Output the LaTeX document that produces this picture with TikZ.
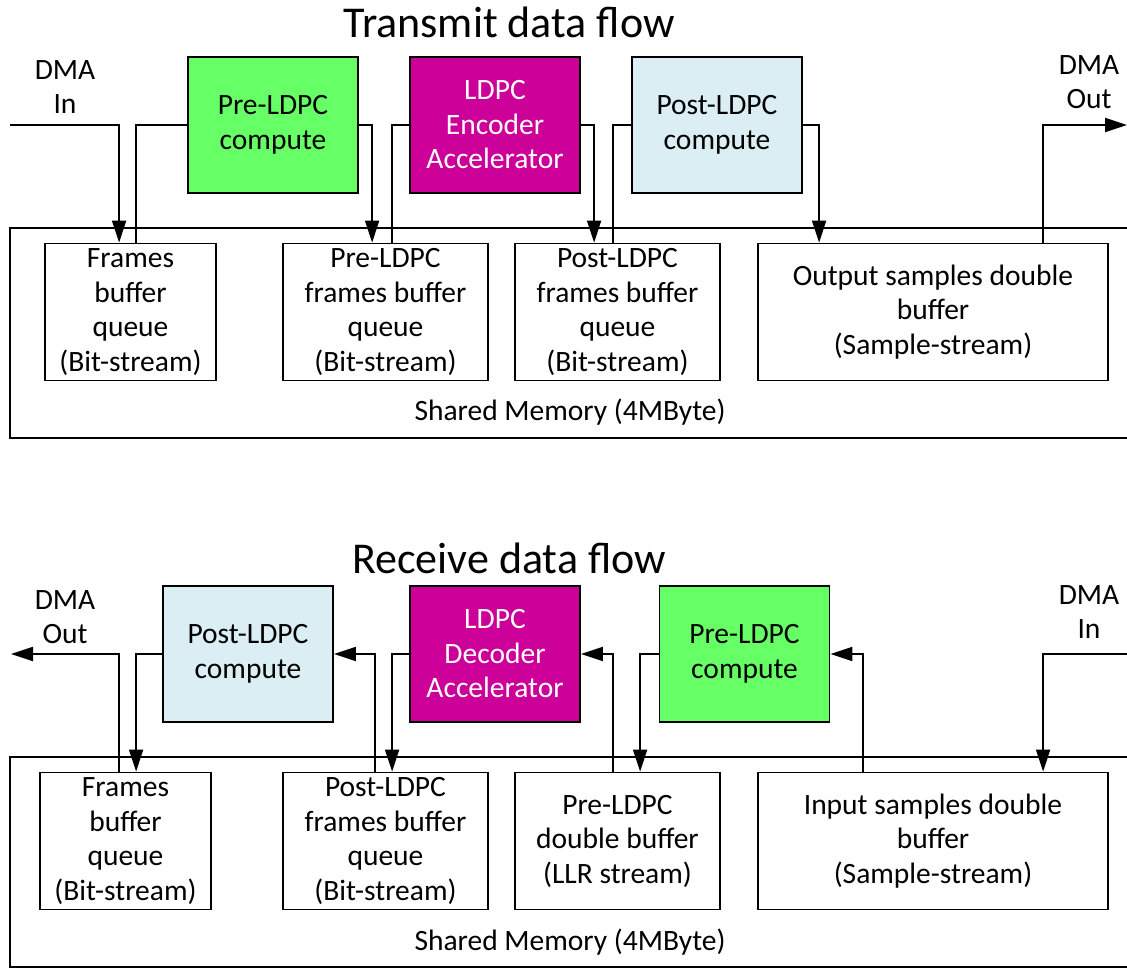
\documentclass[tikz,border=0pt]{standalone}
\usepackage{fontspec}
\setmainfont{Carlito}
\usetikzlibrary{arrows.meta}
\definecolor{cgreen}{RGB}{102,255,102}
\definecolor{cmag}{RGB}{204,0,153}
\definecolor{cblue}{RGB}{218,238,243}
\tikzset{
  every node/.style={font=\fontsize{29.5}{34.5}\selectfont, align=center, inner sep=0pt},
  box/.style={draw, line width=1.8pt, minimum height=137pt},
  comp/.style={draw, line width=1.8pt, minimum width=170pt, minimum height=136pt},
  wire/.style={line width=1.8pt},
  arr/.style={wire, -{Triangle[length=22pt,width=14pt]}},
  title/.style={font=\fontsize{44}{52}\selectfont},
}
\begin{document}
\begin{tikzpicture}[x=1pt,y=-1pt]
\useasboundingbox (0,0) rectangle (1127,968);
% ---------------- Transmit ----------------
\node[title] (t1) at (509,22) {Transmit data flow};
\draw[wire] (1127,228) -- (10,228) -- (10,438) -- (1127,438);
\node (sm1) at (570,412) {Shared Memory (4MByte)};
\node (dmain1) at (65,87) {DMA\\In};
\node (dmaout1) at (1089,82) {DMA\\Out};
\node[comp, fill=cgreen] (g1) at (273,125) {Pre-LDPC\\compute};
\node[comp, fill=cmag, text=white] (m1) at (495,125) {LDPC\\Encoder\\Accelerator};
\node[comp, fill=cblue] (b1) at (717,125) {Post-LDPC\\compute};
\node[box, minimum width=171pt] (fb1) at (130.5,312) {Frames\\buffer\\queue\\(Bit-stream)};
\node[box, minimum width=205pt] (pb1) at (385.5,312) {Pre-LDPC\\frames buffer\\queue\\(Bit-stream)};
\node[box, minimum width=205pt] (qb1) at (617.5,312) {Post-LDPC\\frames buffer\\queue\\(Bit-stream)};
\node[box, minimum width=350pt] (ob1) at (933,312) {Output samples double\\buffer\\(Sample-stream)};
\coordinate (in1) at (10,125);
\coordinate (out1) at (1127,125);
\draw[arr] (in1) -| ([xshift=75pt]fb1.north west);
\draw[wire] (g1.west) -| ([xshift=92pt]fb1.north west);
\draw[arr] (g1.east) -| ([xshift=90pt]pb1.north west);
\draw[wire] (m1.west) -| ([xshift=110pt]pb1.north west);
\draw[arr] (m1.east) -| ([xshift=80pt]qb1.north west);
\draw[wire] (b1.west) -| ([xshift=99pt]qb1.north west);
\draw[arr] (b1.east) -| ([xshift=62pt]ob1.north west);
\draw[arr] ([xshift=286pt]ob1.north west) |- (out1);
% ---------------- Receive ----------------
\node[title] (t2) at (509,558) {Receive data flow};
\draw[wire] (1127,757) -- (10,757) -- (10,967) -- (1127,967);
\node (sm2) at (570,942) {Shared Memory (4MByte)};
\node (dmaout2) at (65,617) {DMA\\Out};
\node (dmain2) at (1089,612) {DMA\\In};
\node[comp, fill=cblue] (b2) at (248,654) {Post-LDPC\\compute};
\node[comp, fill=cmag, text=white] (m2) at (495,654) {LDPC\\Decoder\\Accelerator};
\node[comp, fill=cgreen] (g2) at (744.5,654) {Pre-LDPC\\compute};
\node[box, minimum width=171pt] (fb2) at (125.5,841) {Frames\\buffer\\queue\\(Bit-stream)};
\node[box, minimum width=205pt] (pb2) at (385.5,841) {Post-LDPC\\frames buffer\\queue\\(Bit-stream)};
\node[box, minimum width=205pt] (db2) at (617.5,841) {Pre-LDPC\\double buffer\\(LLR stream)};
\node[box, minimum width=350pt] (ib2) at (933,841) {Input samples double\\buffer\\(Sample-stream)};
\coordinate (out2) at (11,654);
\coordinate (in2) at (1127,654);
\draw[arr] ([xshift=80pt]fb2.north west) |- (out2);
\draw[arr] (b2.west) -| ([xshift=97pt]fb2.north west);
\draw[arr] ([xshift=93pt]pb2.north west) |- (b2.east);
\draw[arr] (m2.west) -| ([xshift=110pt]pb2.north west);
\draw[arr] ([xshift=99pt]db2.north west) |- (m2.east);
\draw[arr] (g2.west) -| ([xshift=126pt]db2.north west);
\draw[arr] ([xshift=106pt]ib2.north west) |- (g2.east);
\draw[arr] (in2) -| ([xshift=286pt]ib2.north west);
\end{tikzpicture}
\end{document}
